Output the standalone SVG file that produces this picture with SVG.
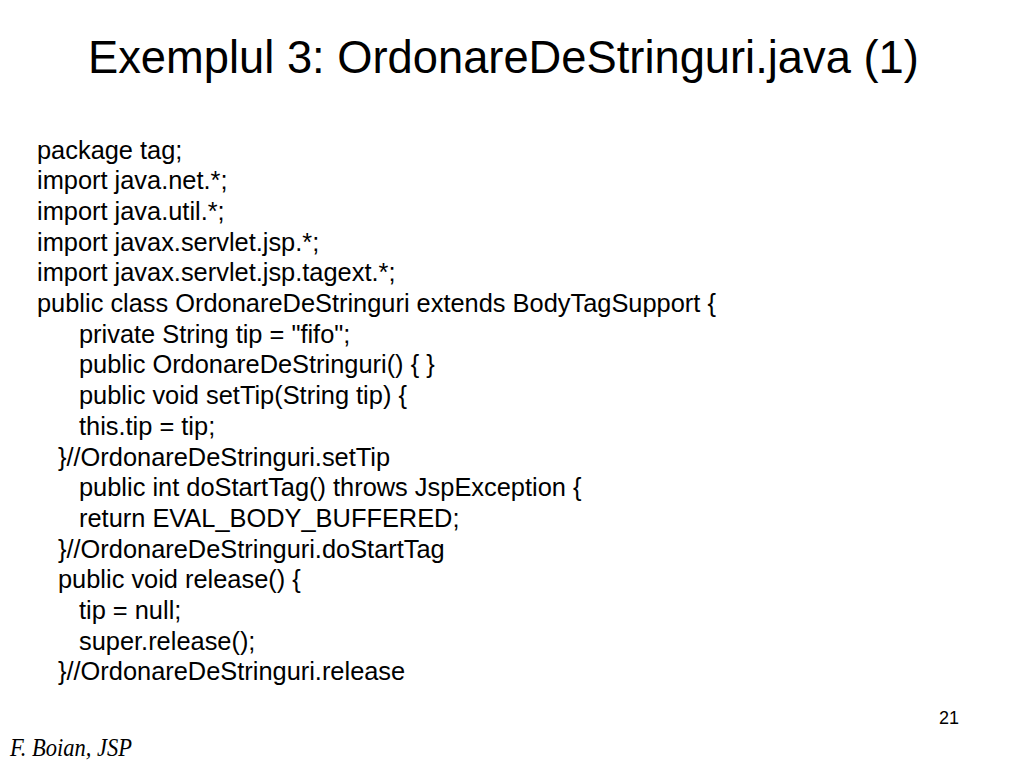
<svg xmlns="http://www.w3.org/2000/svg" width="1024" height="768" viewBox="0 0 1024 768">
<style>
.t{font-family:"Liberation Sans",Arial,Helvetica,sans-serif;fill:#000}
.code{font-size:25.4px}
.title{font-size:45.3px}
.foot{font-family:"Liberation Serif","Times New Roman",serif;font-style:italic;font-size:25px;fill:#000}
.num{font-size:18px}
</style>
<rect width="1024" height="768" fill="#fff"/>
<g id="title"><text class="t title" x="88" y="73">Exemplul 3: OrdonareDeStringuri.java (1)</text></g>
<g id="code" class="t code" transform="translate(0,-1.5)">
<text x="37" y="160">package tag;</text>
<text x="37" y="190.7">import java.net.*;</text>
<text x="37" y="221.4">import java.util.*;</text>
<text x="37" y="252.1">import javax.servlet.jsp.*;</text>
<text x="37" y="282.8">import javax.servlet.jsp.tagext.*;</text>
<text x="37" y="313.5">public class OrdonareDeStringuri extends BodyTagSupport {</text>
<text x="79" y="344.2">private String tip = "fifo";</text>
<text x="79" y="374.9">public OrdonareDeStringuri() { }</text>
<text x="79" y="405.6">public void setTip(String tip) {</text>
<text x="79" y="436.3">this.tip = tip;</text>
<text x="58" y="467">}//OrdonareDeStringuri.setTip</text>
<text x="79" y="497.7">public int doStartTag() throws JspException {</text>
<text x="79" y="528.4">return EVAL_BODY_BUFFERED;</text>
<text x="58" y="559.1">}//OrdonareDeStringuri.doStartTag</text>
<text x="58" y="589.8">public void release() {</text>
<text x="79" y="620.5">tip = null;</text>
<text x="79" y="651.2">super.release();</text>
<text x="58" y="681.9">}//OrdonareDeStringuri.release</text>
</g>
<g id="footer">
<text class="foot" x="10" y="756" textLength="122" lengthAdjust="spacingAndGlyphs">F. Boian, JSP</text>
<text class="t num" x="939" y="723.5">21</text>
</g>
</svg>
